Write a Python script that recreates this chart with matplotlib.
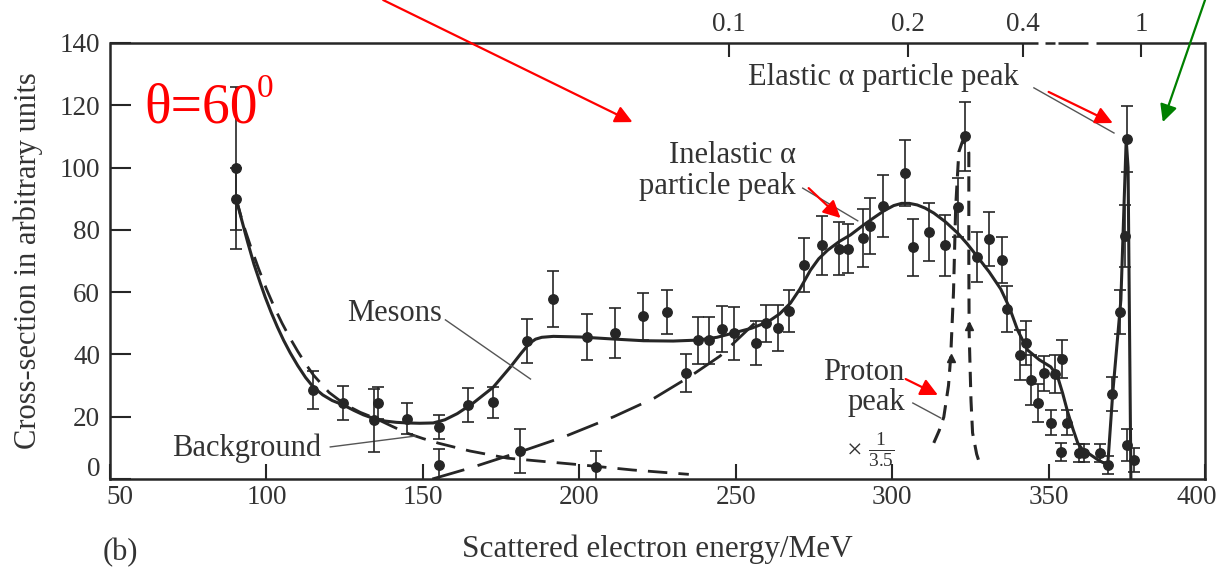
import matplotlib
matplotlib.use("Agg")
import matplotlib.pyplot as plt
import matplotlib.transforms as mtransforms
import numpy as np

plt.rcParams['font.family'] = ['Liberation Serif', 'DejaVu Serif']
plt.rcParams['mathtext.fontset'] = 'custom'
plt.rcParams['mathtext.rm'] = 'Liberation Serif'
plt.rcParams['mathtext.it'] = 'Liberation Serif:italic'

# measured points: energy (MeV), cross-section, error
energy = [90.3, 90.3, 115, 124.5, 134.3, 135.8, 145, 155, 155, 164.5, 172.5, 181,
          183.4, 191.7, 202.6, 205.2, 211.3, 220.5, 228.1, 234.2, 237.8, 241.3,
          245.5, 249.6, 256.4, 259.7, 263.4, 267, 271.7, 277.5, 282.9, 285.8,
          290.6, 293, 297, 304, 306.8, 311.7, 316.8, 320.9, 323.3, 327.2, 330.9,
          335.2, 336.6, 340.8, 342.7, 344.3, 346.5, 348.5, 350.7, 352, 353.9,
          354.2, 355.8, 359.7, 361.3, 366.4, 368.9, 370.2, 372.8, 374.4, 375,
          375, 377.3]
counts = [100, 90, 28.6, 24.4, 18.8, 24.4, 19.3, 16.7, 4.5, 23.8, 24.7, 9,
          44.3, 57.8, 45.6, 3.9, 46.9, 52.2, 53.6, 34, 44.5, 44.5,
          48.2, 46.8, 43.7, 50, 48.5, 53.9, 68.7, 75.1, 74, 74,
          77.4, 81.1, 87.7, 98.3, 74.4, 79.3, 75, 87.3, 110, 71.2, 77,
          70.3, 54.6, 39.8, 43.7, 31.8, 24.4, 34, 18, 33.7, 8.7,
          38.5, 18, 8.4, 8.4, 8.4, 4.5, 27.3, 53.6, 78, 109.2,
          10.9, 6.1]
errors = [26, 10, 6, 5.5, 10, 5, 5, 4, 5, 5.5, 5, 7,
          7, 9, 7.5, 5, 8, 7.5, 7, 6, 7.5, 7.5,
          7.5, 8.5, 7, 6, 7.4, 6.8, 8.7, 9.5, 8.5, 8,
          9.3, 9, 10, 10.5, 9.2, 9.2, 9.8, 9.5, 11, 8, 8.7,
          7.4, 7.5, 8, 7, 8, 6, 5.6, 4, 6, 3,
          6, 4, 3, 3, 3, 3, 5.6, 7, 10, 10.6,
          5, 4]

# fitted total curve
fit_e = [90.3, 92, 94, 96, 98, 99.6, 101.5, 103.5, 105.5, 107.6, 110, 112.5,
         115, 118, 121, 124.5, 128, 131, 134.1, 138, 141.5, 145, 149, 153.3,
         157, 161, 166.1, 172.5, 178, 181.5, 184, 186, 188, 191.7, 200.3, 210,
         220.5, 230, 237.8, 244, 249.3, 255, 260.2, 264, 267.5, 270.5, 273.9,
         276.5, 279.4, 283, 286.7, 290.5, 294, 297.5, 300.5, 303, 305.5, 308,
         310.5, 313.3, 317, 320.9, 324, 327.3, 331, 334.7, 337.5, 340.1, 343.3,
         347, 350.7, 352.9, 354.5, 356.1, 357.8, 359.3, 360.8, 362.5, 366,
         368.9, 370.5, 373.1, 374.8, 375.4, 376.3]
fit_y = [90, 83.5, 76, 69, 63, 58.4, 53.5, 48.8, 44.5, 40.5, 36.4, 32.6,
         29.5, 27, 25.2, 23.8, 22, 20.6, 19.5, 18.6, 18.2, 18, 17.9, 18,
         19, 21, 24.4, 29.5, 36, 40.5, 43.5, 44.9, 45.5, 45.8, 45.6, 45,
         44.4, 44.3, 44.6, 45.5, 46.9, 48.4, 50.4, 53, 56.5, 61, 67.1,
         70.7, 73.5, 76.2, 78.4, 81.3, 83.8, 86.2, 87.8, 88.5, 88.5, 88,
         87, 85.4, 82.6, 79, 75.5, 71.3, 66.5, 61, 55, 47.8, 41.4,
         38.3, 36, 32.8, 27.5, 21.5, 16, 11.6, 9.5, 8.4, 6,
         4.5, 27.6, 57.5, 109, 100, 0]

# background curve
bg_e = [90.3, 92.5, 95, 97.5, 100, 102.5, 105, 107.5, 110, 112.5, 115, 120,
        125, 130, 135, 140, 145, 150, 155, 165, 177, 190, 201, 217, 235]
bg_y = [90, 82, 74.5, 67.5, 61, 55.2, 50, 45.3, 41, 37, 33.4, 27.8,
        24, 21.4, 19.4, 17, 14.7, 13, 11.5, 9, 6.7, 5.5, 4.5, 2.9, 1.5]

# meson contribution
mes_e = [153, 165, 181, 195, 211, 224, 235.5, 245, 256]
mes_y = [0, 3.5, 8.7, 13.5, 20, 26, 33, 39.5, 50]

# proton peak (scaled by 1/3.5)
pro_e = [313.3, 315, 316.5, 318, 318.7, 319.6, 320.3, 321.3, 322.5, 323.7, 324.5,
         324.5, 324.6, 325.2, 325.7, 327, 328.3]
pro_y = [11.6, 15.5, 19.9, 30, 39.2, 60, 87.3, 105, 108.5, 107.5, 104.7,
         70, 46.9, 25, 14.8, 8, 3.9]

# top scale
top_tick_e = [247.7, 305, 341.7, 379.5]
top_tick_labels = ['0.1', '0.2', '0.4', '1']

ink = '#262626'
txt = '#333333'
fs = 22

fig = plt.figure(figsize=(12.28, 5.71), dpi=100)
ax = fig.add_axes([0.0896, 0.1611, 0.8917, 0.7636])

ax.errorbar(energy, counts, yerr=errors, fmt='o', color=ink, ms=6.8,
            elinewidth=1.2, capsize=4, capthick=1.2, zorder=3)
ax.plot(fit_e, fit_y, color=ink, lw=2.2, zorder=2)
ax.plot(bg_e, bg_y, color=ink, lw=2.0, dashes=(7, 4), zorder=2)
ax.plot(mes_e, mes_y, color=ink, lw=2.0, dashes=(12, 5), zorder=2)
ax.plot(pro_e, pro_y, color=ink, lw=2.2, dashes=(5, 3), zorder=2)
# arrow marks on the proton peak
ax.plot([318.9, 324.5], [39, 49], ls='none', marker='^', ms=6, color=ink)

ax.set_xlim(50, 400)
ax.set_ylim(0, 140)
ax.set_xticks([50, 100, 150, 200, 250, 300, 350, 400])
ax.set_yticks(range(0, 141, 20))
ax.tick_params(axis='y', direction='in', length=15, width=1.5, pad=7,
               labelsize=19.5, labelcolor=txt, color=ink)
ax.tick_params(axis='x', direction='in', length=11, width=1.5, pad=4,
               labelsize=19.5, labelcolor=txt, color=ink)
for s in ['left', 'right', 'bottom']:
    ax.spines[s].set_linewidth(1.8)
    ax.spines[s].set_color(ink)
ax.spines['top'].set_visible(False)
# broken top border
for x0, x1 in [(0, 0.847), (0.854, 0.863), (0.866, 0.893), (0.900, 1.0)]:
    ax.plot([x0, x1], [1, 1], transform=ax.transAxes, color=ink, lw=1.8,
            clip_on=False, solid_capstyle='butt')

# nudge the corner labels as in the original print
def nudge(label, dx, dy):
    label.set_transform(label.get_transform() +
                        mtransforms.ScaledTranslation(dx / 72, dy / 72, fig.dpi_scale_trans))

nudge(ax.get_yticklabels()[0], 0, 9)
nudge(ax.get_xticklabels()[0], 7, 0)
nudge(ax.get_xticklabels()[-1], -6, 0)

ax.set_xlabel('Scattered electron energy/MeV', fontsize=22.5, color=txt, labelpad=18)
ax.set_ylabel('Cross-section in arbitrary units', fontsize=22, color=txt, labelpad=12)

top = ax.twiny()
top.set_xlim(ax.get_xlim())
top.set_xticks(top_tick_e)
top.set_xticklabels(top_tick_labels)
top.tick_params(axis='x', direction='in', length=10, width=1.5, pad=4,
                labelsize=19.5, labelcolor=txt, color=ink)
for s in top.spines.values():
    s.set_visible(False)

# labels
ax.text(253.8, 128.8, 'Elastic α particle peak', fontsize=fs, color=txt,
        ha='left', va='center')
ax.text(269.1, 98.9, 'Inelastic α\nparticle peak', fontsize=fs, color=txt,
        ha='right', va='center', multialignment='right', linespacing=1.1)
ax.text(125.8, 53.3, 'Mesons', fontsize=fs, color=txt, ha='left', va='center')
ax.text(69.8, 10, 'Background', fontsize=fs, color=txt, ha='left', va='center')
ax.text(304, 29.5, 'Proton\npeak', fontsize=fs, color=txt, ha='right',
        va='center', multialignment='right', linespacing=1.05)
ax.text(285.1, 9.5, r'$\times\ \frac{1}{3.5}$', fontsize=20, color=txt,
        ha='left', va='center')
fig.text(103 / 1228, 1 - 553 / 571, '(b)', fontsize=fs, color=txt,
         ha='left', va='center')

# leader lines
for (xa, ya), (xb, yb) in [((345.3, 125.6), (370.9, 111.1)),
                           ((271.4, 93.4), (289, 82.9)),
                           ((157.2, 51.1), (184.4, 32.1)),
                           ((120.4, 10.3), (147.6, 13.8)),
                           ((306.6, 24.4), (315.5, 19.6))]:
    ax.plot([xa, xb], [ya, yb], color='#555555', lw=1.0)

# theta label
ax.text(60.9, 114.6, 'θ=60', fontsize=40, color='red', ha='left', va='baseline')
ax.text(97, 122.7, '0', fontsize=24, color='red', ha='left', va='baseline')

# coloured arrows
def arrow(start, end, color):
    ax.annotate('', xy=end, xytext=start, annotation_clip=False,
                arrowprops=dict(arrowstyle='-|>', color=color, lw=1.6,
                                mutation_scale=26, shrinkA=0, shrinkB=0))

arrow((137.3, 153.8), (217, 114.6), 'red')
arrow((400, 153.8), (386.5, 114.6), 'green')
arrow((350, 124.3), (370.5, 114.3), 'red')
arrow((273.3, 93.4), (283.5, 83.8), 'red')
arrow((304.3, 32.1), (314.6, 27), 'red')

fig.savefig('out.png', dpi=100)
